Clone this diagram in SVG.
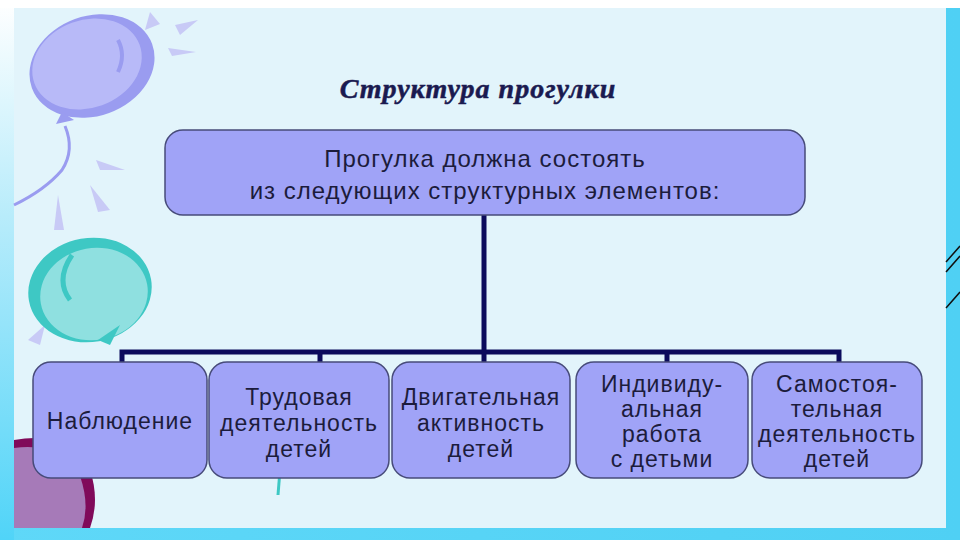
<svg xmlns="http://www.w3.org/2000/svg" width="960" height="540" viewBox="0 0 960 540">
<defs>
<linearGradient id="bg" x1="0" y1="0" x2="1" y2="0">
<stop offset="0" stop-color="#5fd8f8"/><stop offset="1" stop-color="#4fd0f4"/>
</linearGradient>
<linearGradient id="lf" x1="0" y1="0" x2="0" y2="1">
<stop offset="0" stop-color="#ffffff"/><stop offset="0.4" stop-color="#b8ecfb"/><stop offset="1" stop-color="#50d4f8"/>
</linearGradient>
</defs>
<style>
.box{fill:#a0a3f7;stroke:#474b7a;stroke-width:1.5}
.t{font-family:"Liberation Sans",Arial,sans-serif;font-size:23px;letter-spacing:1px;fill:#1c1c3c;text-anchor:middle}
.c{stroke:#0b0b5c;stroke-width:5;fill:none}
</style>
<rect width="960" height="540" fill="url(#bg)"/>
<rect x="0" y="0" width="14" height="540" fill="url(#lf)"/>
<rect x="0" y="0" width="960" height="8" fill="#ffffff"/>
<rect x="14" y="8" width="932" height="520" fill="#e2f4fb"/>
<g stroke="#111" stroke-width="1.5" fill="none">
<path d="M946 262 L960 246 M946 272 L960 256 M946 308 L960 292"/>
</g>
<g id="balloons">
<ellipse cx="92" cy="66" rx="64" ry="50" fill="#9a9cf0" transform="rotate(-20 92 66)"/>
<ellipse cx="87" cy="64" rx="56" ry="44" fill="#b8baf8" transform="rotate(-20 87 64)"/>
<path d="M118 40 Q126 55 118 72" stroke="#9a9cf0" stroke-width="4" fill="none"/>
<path d="M62 112 L56 124 L74 120 Z" fill="#9a9cf0"/>
<path d="M65 126 Q75 150 62 170 Q45 190 14 205" stroke="#9a9cf0" stroke-width="3" fill="none"/>
<g fill="#c8caf6">
<path d="M150 12 L160 24 L145 30 Z"/><path d="M175 25 L198 20 L180 35 Z"/><path d="M168 48 L196 52 L172 56 Z"/>
<path d="M96 160 L125 170 L100 170 Z"/><path d="M58 195 L64 230 L54 230 Z"/><path d="M90 185 L110 210 L98 212 Z"/>
<path d="M28 340 L45 325 L40 345 Z"/>
</g>
<ellipse cx="90" cy="290" rx="62" ry="52" fill="#3ec8c4" transform="rotate(-10 90 290)"/>
<ellipse cx="94" cy="294" rx="54" ry="46" fill="#8fe0e0" transform="rotate(-10 94 294)"/>
<path d="M72 255 Q55 280 70 300" stroke="#3ec8c4" stroke-width="5" fill="none"/>
<path d="M98 340 L120 325 L110 345 Z" fill="#3ec8c4"/>
<path d="M14 440 Q70 430 90 470 Q100 500 90 528 L14 528 Z" fill="#800a5a"/>
<path d="M14 448 Q62 442 80 476 Q90 505 82 528 L14 528 Z" fill="#a67ab8"/>
<path d="M280 470 L278 495" stroke="#3ec8c4" stroke-width="3"/>
</g>
<text x="478" y="98" font-family="'Liberation Serif',serif" font-size="28" font-weight="bold" font-style="italic" letter-spacing="1" fill="#1a1a50" text-anchor="middle" stroke="#1a1a50" stroke-width="0.5">Структура прогулки</text>
<g id="connectors" class="c">
<path d="M484 215 V352"/>
<path d="M122 362 V352 H839 V362"/>
<path d="M320 352 V362 M484 352 V362 M667 352 V362"/>
</g>
<g id="top"><rect class="box" x="165" y="130" width="640" height="85" rx="18"/>
<text class="t" x="485" y="167" style="font-size:24px">Прогулка должна состоять</text>
<text class="t" x="485" y="199" style="font-size:24px">из следующих структурных элементов:</text></g>
<g id="n1"><rect class="box" x="33" y="362" width="174" height="116" rx="18"/><text class="t" x="120" y="429">Наблюдение</text></g>
<g id="n2"><rect class="box" x="209" y="362" width="180" height="116" rx="18"/>
<text class="t" x="299" y="405">Трудовая</text><text class="t" x="299" y="431">деятельность</text><text class="t" x="299" y="457">детей</text></g>
<g id="n3"><rect class="box" x="392" y="362" width="178" height="116" rx="18"/>
<text class="t" x="481" y="405">Двигательная</text><text class="t" x="481" y="431">активность</text><text class="t" x="481" y="457">детей</text></g>
<g id="n4"><rect class="box" x="576" y="362" width="172" height="116" rx="18"/>
<text class="t" x="662" y="392">Индивиду-</text><text class="t" x="662" y="417">альная</text><text class="t" x="662" y="442">работа</text><text class="t" x="662" y="467">с детьми</text></g>
<g id="n5"><rect class="box" x="752" y="362" width="170" height="116" rx="18"/>
<text class="t" x="837" y="392">Самостоя-</text><text class="t" x="837" y="417">тельная</text><text class="t" x="837" y="442">деятельность</text><text class="t" x="837" y="467">детей</text></g>
</svg>
